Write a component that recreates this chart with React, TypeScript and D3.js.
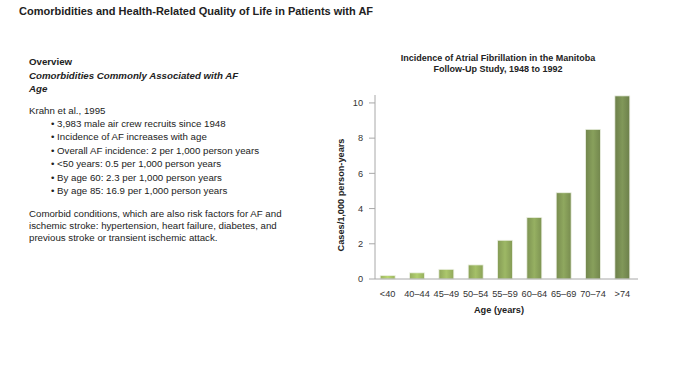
import React from "react";
import * as d3 from "d3";

const categories = ["<40", "40–44", "45–49", "50–54", "55–59", "60–64", "65–69", "70–74", ">74"];
const incidence = [0.2, 0.35, 0.55, 0.8, 2.2, 3.5, 4.9, 8.5, 10.4];
const yTicks = [0, 2, 4, 6, 8, 10];

const pageTitle = "Comorbidities and Health-Related Quality of Life in Patients with AF";
const chartTitle = ["Incidence of Atrial Fibrillation in the Manitoba", "Follow-Up Study, 1948 to 1992"];
const bullets = [
  "3,983 male air crew recruits since 1948",
  "Incidence of AF increases with age",
  "Overall AF incidence: 2 per 1,000 person years",
  "<50 years: 0.5 per 1,000 person years",
  "By age 60: 2.3 per 1,000 person years",
  "By age 85: 16.9 per 1,000 person years",
];
const paragraph = [
  "Comorbid conditions, which are also risk factors for AF and",
  "ischemic stroke: hypertension, heart failure, diabetes, and",
  "previous stroke or transient ischemic attack.",
];

const FONT = "'Liberation Sans', Arial, Helvetica, sans-serif";

export default function App() {
  const W = 700, H = 375;
  const axisX = 375, axisRight = 638, y0 = 279, yTop = 95;
  const x = d3.scaleBand<string>().domain(categories).range([373, 637]).paddingInner(0.49).paddingOuter(0.245);
  const y = d3.scaleLinear().domain([0, 10.45]).range([y0, yTop]);
  const color = d3.scaleLinear<string>().domain([0, categories.length - 1]).range(["#b0cc6c", "#7a9054"]).interpolate(d3.interpolateRgb);

  return (
    <svg width={W} height={H} style={{ position: "absolute", left: 0, top: 0, background: "#fff" }} fontFamily={FONT}>
      <defs>
        {categories.map((c, i) => {
          const base = d3.color(color(i))!;
          return (
            <linearGradient key={c} id={`g${i}`} x1="0" x2="1" y1="0" y2="0">
              <stop offset="0%" stopColor={base.darker(0.35).formatHex()} />
              <stop offset="50%" stopColor={base.brighter(0.15).formatHex()} />
              <stop offset="100%" stopColor={base.darker(0.35).formatHex()} />
            </linearGradient>
          );
        })}
      </defs>
      <rect width={W} height={H} fill="#fff" />
      <text x={19} y={14.5} fontSize={11} fontWeight="bold" fill="#222">{pageTitle}</text>

      {/* left text */}
      <g fill="#222" fontSize={9.7}>
        <text x={29} y={65} fontWeight="bold">Overview</text>
        <text x={29} y={79} fontWeight="bold" fontStyle="italic">Comorbidities Commonly Associated with AF</text>
        <text x={29} y={92} fontWeight="bold" fontStyle="italic">Age</text>
        <text x={29} y={113.5}>Krahn et al., 1995</text>
        {bullets.map((b, i) => (
          <text key={i} x={51} y={126.5 + i * 13.5}>{"• " + b}</text>
        ))}
        {paragraph.map((p, i) => (
          <text key={i} x={29} y={217 + i * 12}>{p}</text>
        ))}
      </g>

      {/* chart title */}
      <g fontSize={9} fontWeight="bold" fill="#222" textAnchor="middle">
        {chartTitle.map((t, i) => (
          <text key={i} x={498} y={60.5 + i * 11.5}>{t}</text>
        ))}
      </g>

      {/* bars */}
      {categories.map((c, i) => (
        <rect key={c} x={x(c)!} y={y(incidence[i])} width={x.bandwidth()} height={y0 - y(incidence[i])}
          fill={`url(#g${i})`} stroke="#eef2e6" strokeWidth={0.8} />
      ))}

      {/* axes */}
      <line x1={axisX} x2={axisX} y1={yTop} y2={y0} stroke="#a8a8a8" strokeWidth={1} />
      <line x1={axisX} x2={axisRight} y1={y0} y2={y0} stroke="#a8a8a8" strokeWidth={1} />
      {yTicks.map((t) => (
        <g key={t}>
          <line x1={axisX - 6} x2={axisX} y1={y(t)} y2={y(t)} stroke="#a8a8a8" strokeWidth={1} />
          <text x={363} y={y(t) + 3.3} fontSize={9.2} textAnchor="end" fill="#333">{t}</text>
        </g>
      ))}
      {categories.map((c) => (
        <text key={c} x={x(c)! + x.bandwidth() / 2} y={296.5} fontSize={9.2} textAnchor="middle" fill="#333">{c}</text>
      ))}
      <text x={499} y={313} fontSize={9.2} fontWeight="bold" textAnchor="middle" fill="#222">Age (years)</text>
      <text transform={`translate(344,195) rotate(-90)`} fontSize={9.2} fontWeight="bold" textAnchor="middle" fill="#222">Cases/1,000 person-years</text>
    </svg>
  );
}
